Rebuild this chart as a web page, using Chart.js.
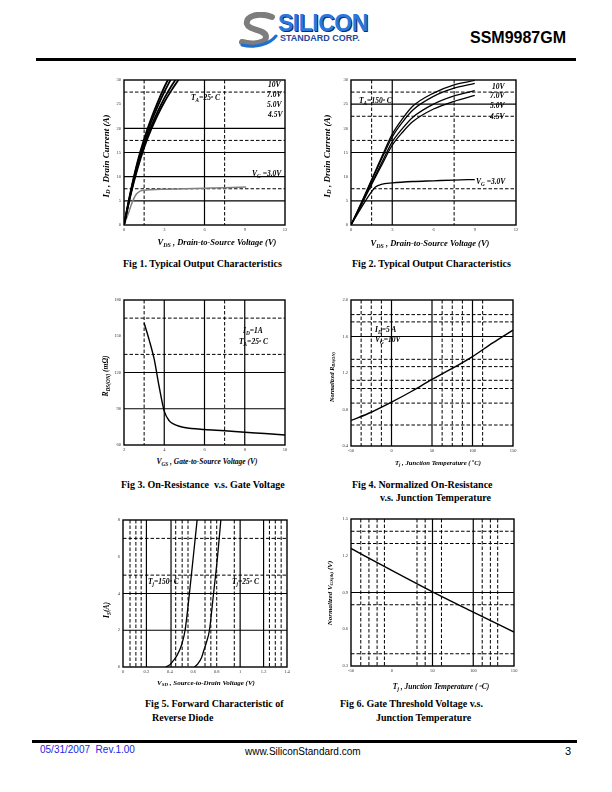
<!DOCTYPE html>
<html>
<head>
<meta charset="utf-8">
<title>SSM9987GM – typical characteristics</title>
<script src="https://cdn.jsdelivr.net/npm/chart.js@4.4.1/dist/chart.umd.min.js"></script>
<style>
  html, body { margin: 0; padding: 0; background: #fff; }
  body { position: relative; width: 612px; height: 792px; overflow: hidden;
         font-family: "Liberation Serif", "Times New Roman", serif; color: #000; }
  canvas { position: absolute; }
  .a { position: absolute; white-space: nowrap; line-height: 1; }
  .cap { font-weight: bold; font-size: 10px; }
  .ann { font-style: italic; font-weight: bold; font-size: 7.5px; transform: translateY(-50%); }
  .axt { font-style: italic; font-weight: bold; font-size: 8.5px; transform: translate(-50%, -50%); }
  .yt  { font-style: italic; font-weight: bold; font-size: 8.5px; transform: translate(-50%, -50%) rotate(-90deg); }
  sub { font-size: 70%; vertical-align: -0.3em; line-height: 0; }
  sup { font-size: 60%; vertical-align: 0.6em; line-height: 0; }
  .rule { position: absolute; background: #000; height: 3px; }
  .sans { font-family: "Liberation Sans", Arial, sans-serif; }
</style>
</head>
<body>

<!-- header -->
<svg class="a" style="left:239px;top:12px" width="40" height="36" viewBox="0 0 40 36">
  <path d="M33 5 C 20 0, 6 4, 8 12 C 10 19, 27 17, 27 25 C 27 31, 14 33, 3 30"
        stroke="#7d7d7d" stroke-width="6" fill="none" stroke-linecap="round"/>
  <path d="M3 33 C 15 36, 30 33, 37 24" stroke="#1f6fd0" stroke-width="3" fill="none" stroke-linecap="round"/>
</svg>
<div class="a sans" style="left:278px;top:12px;font-size:23px;font-weight:bold;color:#2a78dc;letter-spacing:-0.5px;text-shadow:1px 1px 0 #0d2c6e">SILICON</div>
<div class="a sans" style="left:280px;top:34px;font-size:9px;font-weight:bold;color:#1d4a9c">STANDARD CORP.</div>
<div class="a sans" style="left:470px;top:30px;font-size:16px;font-weight:bold">SSM9987GM</div>
<div class="rule" style="left:36px;width:540px;top:58px"></div>

<!-- footer -->
<div class="rule" style="left:32px;width:545px;top:740px"></div>
<div class="a sans" style="left:40px;top:745px;font-size:10px;color:#2424e6">05/31/2007&nbsp; Rev.1.00</div>
<div class="a sans" style="left:245px;top:747px;font-size:10px">www.SiliconStandard.com</div>
<div class="a sans" style="left:565px;top:746px;font-size:11px">3</div>

<canvas id="fig1"></canvas>
<canvas id="fig2"></canvas>
<canvas id="fig3"></canvas>
<canvas id="fig4"></canvas>
<canvas id="fig5"></canvas>
<canvas id="fig6"></canvas>

<!-- captions -->
<div class="a cap" style="left:123px;top:259px">Fig 1. Typical Output Characteristics</div>
<div class="a cap" style="left:352px;top:259px">Fig 2. Typical Output Characteristics</div>
<div class="a cap" style="left:121px;top:480px">Fig 3. On-Resistance&nbsp; v.s. Gate Voltage</div>
<div class="a cap" style="left:352px;top:480px">Fig 4. Normalized On-Resistance</div>
<div class="a cap" style="left:380px;top:493px">v.s. Junction Temperature</div>
<div class="a cap" style="left:145px;top:699px">Fig 5. Forward Characteristic of</div>
<div class="a cap" style="left:152px;top:713px">Reverse Diode</div>
<div class="a cap" style="left:340px;top:699px">Fig 6. Gate Threshold Voltage v.s.</div>
<div class="a cap" style="left:376px;top:713px">Junction Temperature</div>

<!-- axis titles -->
<div class="a axt" style="left:217px;top:242px">V<sub>DS</sub> , Drain-to-Source Voltage (V)</div>
<div class="a yt" style="left:106px;top:156px;font-size:9px">I<sub>D</sub> , Drain Current (A)</div>
<div class="a axt" style="left:430px;top:243px">V<sub>DS</sub> , Drain-to-Source Voltage (V)</div>
<div class="a yt" style="left:327px;top:156px;font-size:9px">I<sub>D</sub> , Drain Current (A)</div>
<div class="a axt" style="left:207px;top:462px;font-size:7.5px">V<sub>GS</sub> , Gate-to-Source Voltage (V)</div>
<div class="a yt" style="left:106px;top:376px;font-size:7.5px">R<sub>DS(ON)</sub> (m&Omega;)</div>
<div class="a axt" style="left:438px;top:463px;font-size:6.7px">T<sub>j</sub> , Junction Temperature ( <sup>o</sup>C)</div>
<div class="a yt" style="left:332px;top:377px;font-size:6.2px">Normalized R<sub>DS(ON)</sub></div>
<div class="a axt" style="left:206px;top:683px;font-size:7px">V<sub>SD</sub> , Source-to-Drain Voltage (V)</div>
<div class="a yt" style="left:107px;top:610px;font-size:7.5px">I<sub>S</sub>(A)</div>
<div class="a axt" style="left:441px;top:687px;font-size:7.5px">T<sub>j</sub> , Junction Temperature ( <sup>o</sup>C)</div>
<div class="a yt" style="left:330px;top:593px;font-size:7px">Normalized V<sub>GS(th)</sub> (V)</div>

<!-- in-plot labels -->
<div class="a ann" style="left:268px;top:85px">10V</div>
<div class="a ann" style="left:267px;top:95px">7.0V</div>
<div class="a ann" style="left:267px;top:105px">5.0V</div>
<div class="a ann" style="left:268px;top:115px">4.5V</div>
<div class="a ann" style="left:191px;top:98px">T<sub>A</sub>=25<sup>o</sup> C</div>
<div class="a ann" style="left:252px;top:174px">V<sub>G</sub> =3.0V</div>

<div class="a ann" style="left:492px;top:87px">10V</div>
<div class="a ann" style="left:490px;top:96px">7.0V</div>
<div class="a ann" style="left:490px;top:106px">5.0V</div>
<div class="a ann" style="left:490px;top:117px">4.5V</div>
<div class="a ann" style="left:359px;top:101px">T<sub>A</sub>=150<sup>o</sup> C</div>
<div class="a ann" style="left:476px;top:182px">V<sub>G</sub> =3.0V</div>

<div class="a ann" style="left:243px;top:331px">I<sub>D</sub>=1A</div>
<div class="a ann" style="left:239px;top:342px">T<sub>A</sub>=25<sup>o</sup> C</div>

<div class="a ann" style="left:375px;top:330px">I<sub>D</sub>=5 A</div>
<div class="a ann" style="left:375px;top:340px">V<sub>G</sub>=10V</div>

<div class="a ann" style="left:148px;top:582px">T<sub>j</sub>=150<sup>o</sup> C</div>
<div class="a ann" style="left:232px;top:582px">T<sub>j</sub>=25<sup>o</sup> C</div>

<script>
// ---- Fig 1: output characteristics, TA = 25 C  (x = VDS in V, y = ID in A)
const f1XTicks = [0, 3, 6, 9, 12];
const f1YTicks = [0, 5, 10, 15, 20, 25, 30];
const f1_10V  = [[0,0],[0.5,7],[1,13],[1.5,17.8],[2,21.8],[2.5,25.3],[3,28.5],[3.3,30.2]];
const f1_7V   = [[0,0],[0.5,6.8],[1,12.6],[1.5,17.2],[2,21.1],[2.5,24.5],[3,27.5],[3.5,30.2]];
const f1_5V   = [[0,0],[0.5,6.5],[1,12],[1.5,16.5],[2,20.2],[2.5,23.4],[3,26.2],[3.5,28.6],[3.9,30.3]];
const f1_4V5  = [[0,0],[0.5,6.3],[1,11.6],[1.5,16],[2,19.6],[2.5,22.7],[3,25.4],[3.5,27.7],[4.1,30.2]];
const f1_3V   = [[0,0],[0.3,2.2],[0.6,4.6],[0.9,6.3],[1.2,7.0],[1.5,7.2],[2,7.3],[3,7.4],[4.5,7.5],[6,7.6],[7.5,7.7],[9.1,7.85]];

// ---- Fig 2: output characteristics, TA = 150 C
const f2XTicks = [0, 3, 6, 9, 12];
const f2YTicks = [0, 5, 10, 15, 20, 25, 30];
const f2_10V  = [[0,0],[0.75,4.6],[1.5,9.4],[2.25,14.2],[3,18.8],[3.75,22],[4.5,24.6],[6,27.3],[7.5,29],[9,29.9]];
const f2_7V   = [[0,0],[0.75,4.5],[1.5,9.2],[2.25,13.8],[3,18.2],[3.75,21.3],[4.5,23.8],[6,26.6],[7.5,28.3],[9,29.3]];
const f2_5V   = [[0,0],[0.75,4.3],[1.5,8.7],[2.25,13],[3,17.2],[3.75,20],[4.5,22.3],[6,25],[7.5,26.7],[9,27.8]];
const f2_4V5  = [[0,0],[0.75,4.1],[1.5,8.4],[2.25,12.5],[3,16.5],[3.75,19.2],[4.5,21.4],[6,24],[7.5,25.6],[9,26.8]];
const f2_3V   = [[0,0],[0.75,3.6],[1.5,6.9],[1.8,7.9],[2.2,8.4],[3,8.7],[4.5,9.0],[6,9.15],[7.5,9.3],[9,9.4]];

// ---- Fig 3: RDS(on) (mOhm) vs VGS (V), ID = 1A
const f3XTicks = [2, 4, 6, 8, 10];
const f3YTicks = [60, 90, 120, 150, 180];
const f3Vgs  = [3, 3.25, 3.5, 3.75, 4, 4.25, 4.5, 4.75, 5, 6, 7, 8, 9, 10];
const f3Rds  = [161, 147, 131, 108, 88, 80, 77, 75.5, 74.5, 72.8, 71.8, 70.5, 69.5, 68.3];

// ---- Fig 4: normalized RDS(on) vs Tj (C)
const f4XTicks = [-50, 0, 50, 100, 150];
const f4YTicks = [0.4, 0.8, 1.2, 1.6, 2.0];
const f4Tj   = [-50, -25, 0, 25, 50, 75, 100, 125, 150];
const f4Rn   = [0.68, 0.77, 0.88, 1.0, 1.13, 1.25, 1.38, 1.53, 1.67];

// ---- Fig 5: IS (A) vs VSD (V)
const f5XTicks = [0, 0.2, 0.4, 0.6, 0.8, 1, 1.2, 1.4];
const f5YTicks = [0, 2, 4, 6, 8];
const f5_150C = [[0.365,0],[0.40,0.12],[0.43,0.35],[0.46,0.62],[0.50,1.2],[0.53,2.0],[0.567,4.0],[0.60,6.0],[0.636,8.2]];
const f5_25C  = [[0.61,0],[0.64,0.18],[0.67,0.5],[0.69,0.9],[0.715,1.4],[0.738,2.0],[0.773,4.0],[0.807,6.0],[0.838,8.2]];

// ---- Fig 6: normalized VGS(th) vs Tj (C)
const f6XTicks = [-50, 0, 50, 100, 150];
const f6YTicks = [0.3, 0.6, 0.9, 1.2, 1.5];
const f6Tj   = [-50, 0, 50, 100, 150];
const f6Vth  = [1.26, 1.08, 0.905, 0.74, 0.577];

// plot frames on the page (plot-area edges, px)
const BOX = {
  fig1: { l: 124, t: 80,  r: 285, b: 225 },
  fig2: { l: 351, t: 80,  r: 516, b: 225 },
  fig3: { l: 124, t: 300, r: 285, b: 445 },
  fig4: { l: 351, t: 300, r: 513, b: 446 },
  fig5: { l: 123, t: 520, r: 287, b: 667 },
  fig6: { l: 351, t: 519, r: 514, b: 666 },
};
const PAD = { l: 26, t: 6, r: 8, b: 12 };
const SERIF = '"Liberation Serif", "Times New Roman", serif';
const DASH = [3.5, 2];

const pairs = (pts) => pts.map(([x, y]) => ({ x, y }));
const zip = (xs, ys) => xs.map((x, i) => ({ x, y: ys[i] }));

function curve(data, color = '#000', width = 1.3) {
  return {
    data,
    showLine: true,
    borderColor: color,
    borderWidth: width,
    pointRadius: 0,
    fill: false,
    cubicInterpolationMode: 'monotone',
  };
}

// grid lines at chosen values (solid / dashed) and the black plot frame
function frame(g) {
  return {
    id: 'frame',
    beforeDatasetsDraw(chart) {
      const { ctx, chartArea: a, scales: { x, y } } = chart;
      ctx.save();
      ctx.strokeStyle = '#000';
      const draw = (vals, axis, dash, w) => {
        ctx.setLineDash(dash);
        ctx.lineWidth = w;
        (vals || []).forEach((v) => {
          ctx.beginPath();
          if (axis === 'x') {
            const p = x.getPixelForValue(v);
            ctx.moveTo(p, a.top); ctx.lineTo(p, a.bottom);
          } else {
            const p = y.getPixelForValue(v);
            ctx.moveTo(a.left, p); ctx.lineTo(a.right, p);
          }
          ctx.stroke();
        });
      };
      draw(g.yd, 'y', DASH, 1);
      draw(g.xd, 'x', DASH, 1);
      draw(g.ys, 'y', [], 1.2);
      draw(g.xs, 'x', [], 1.2);
      ctx.restore();
    },
    afterDatasetsDraw(chart) {
      const { ctx, chartArea: a } = chart;
      ctx.save();
      ctx.setLineDash([]);
      ctx.lineWidth = 1.4;
      ctx.strokeStyle = '#000';
      ctx.strokeRect(a.left, a.top, a.right - a.left, a.bottom - a.top);
      ctx.restore();
    },
  };
}

function axis(ticks, isX, fmt) {
  return {
    type: 'linear',
    min: ticks[0],
    max: ticks[ticks.length - 1],
    grid: { display: false, drawTicks: false },
    border: { display: false },
    ticks: {
      autoSkip: false,
      maxRotation: 0,
      padding: isX ? 2 : 3,
      color: '#333',
      font: { family: SERIF, size: 4.5 },
      callback: fmt || ((v) => String(v)),
    },
    afterBuildTicks: (s) => { s.ticks = ticks.map((v) => ({ value: v })); },
    afterFit: (s) => {
      if (isX) { s.height = PAD.b; s.paddingLeft = 0; s.paddingRight = 0; }
      else { s.width = PAD.l; s.paddingTop = 0; s.paddingBottom = 0; }
    },
  };
}

function plot(id, xTicks, yTicks, grid, datasets, fmtX, fmtY) {
  const box = BOX[id];
  const cv = document.getElementById(id);
  cv.width = box.r - box.l + PAD.l + PAD.r;
  cv.height = box.b - box.t + PAD.t + PAD.b;
  cv.style.left = (box.l - PAD.l) + 'px';
  cv.style.top = (box.t - PAD.t) + 'px';
  return new Chart(cv, {
    type: 'scatter',
    data: { datasets },
    options: {
      responsive: false,
      animation: false,
      devicePixelRatio: 1,
      layout: { padding: { left: 0, top: PAD.t, right: PAD.r, bottom: 0 } },
      plugins: { legend: { display: false }, tooltip: { enabled: false } },
      scales: { x: axis(xTicks, true, fmtX), y: axis(yTicks, false, fmtY) },
    },
    plugins: [frame(grid)],
  });
}

const oneDec = (v) => v.toFixed(1);

plot('fig1', f1XTicks, f1YTicks,
  { xs: [6], xd: [1.5, 7.5], ys: [5, 10, 15, 20], yd: [7.5, 17.5, 27.5] },
  [curve(pairs(f1_10V), '#000', 1.8), curve(pairs(f1_7V), '#000', 1.8),
   curve(pairs(f1_5V), '#000', 1.8), curve(pairs(f1_4V5), '#000', 1.8),
   curve(pairs(f1_3V), '#808080', 1.5)]);

plot('fig2', f2XTicks, f2YTicks,
  { xs: [3], xd: [1.5, 7.5], ys: [5, 15, 25], yd: [7.5, 17.5, 22.5, 27.5] },
  [curve(pairs(f2_10V)), curve(pairs(f2_7V)), curve(pairs(f2_5V)),
   curve(pairs(f2_4V5)), curve(pairs(f2_3V))]);

plot('fig3', f3XTicks, f3YTicks,
  { xs: [4, 6, 8], xd: [3, 7], ys: [90, 120], yd: [135, 165] },
  [curve(zip(f3Vgs, f3Rds), '#000', 1.4)]);

plot('fig4', f4XTicks, f4YTicks,
  { xs: [0, 50, 100], xd: [-37.5, -25, -12.5, 62.5, 75, 87.5, 112.5],
    ys: [1.6], yd: [1.84, 1.76, 1.35, 1.27, 1.12, 1.03, 0.87, 0.63] },
  [curve(zip(f4Tj, f4Rn), '#000', 1.4)], null, oneDec);

plot('fig5', f5XTicks, f5YTicks,
  { xs: [0.2, 0.41, 1.0, 1.2],
    xd: [0.06, 0.11, 0.155, 0.45, 0.505, 0.555, 0.7, 0.75, 0.8, 0.95, 1.25, 1.3, 1.35],
    ys: [2, 4], yd: [5, 7] },
  [curve(pairs(f5_150C)), curve(pairs(f5_25C))]);

plot('fig6', f6XTicks, f6YTicks,
  { xs: [50, 100], xd: [-38, -28, -18, -9, 31, 41, 61, 111, 121, 130],
    ys: [0.9], yd: [1.4, 1.3, 0.8, 0.4] },
  [curve(zip(f6Tj, f6Vth), '#000', 1.4)], null, oneDec);
</script>
</body>
</html>
